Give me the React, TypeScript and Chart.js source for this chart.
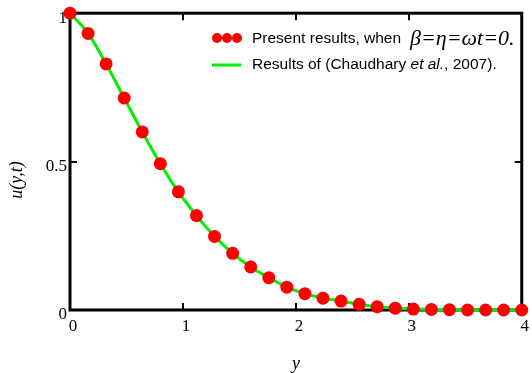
import { useEffect, useRef } from "react";
import { Chart, registerables } from "chart.js";

Chart.register(...registerables);

// distance y
const yPositions = [
  0, 0.16, 0.32, 0.48, 0.64, 0.8, 0.96, 1.12, 1.28, 1.44, 1.6, 1.76, 1.92,
  2.08, 2.24, 2.4, 2.56, 2.72, 2.88, 3.04, 3.2, 3.36, 3.52, 3.68, 3.84, 4.0,
];
// present results (red dots)
const uPresent = [
  1.0, 0.932, 0.829, 0.714, 0.6, 0.493, 0.398, 0.318, 0.248, 0.191, 0.145,
  0.109, 0.077, 0.055, 0.04, 0.03, 0.019, 0.011, 0.006, 0.003, 0.002, 0.001,
  0.0, 0.0, 0.0, 0.0,
];
// Chaudhary et al. 2007 (green line)
const uChaudhary = [
  1.0, 0.932, 0.829, 0.714, 0.6, 0.493, 0.398, 0.318, 0.248, 0.191, 0.145,
  0.109, 0.077, 0.055, 0.04, 0.03, 0.019, 0.011, 0.006, 0.003, 0.002, 0.001,
  0.0, 0.0, 0.0, 0.0,
];
const xTickValues = [1, 2, 3];
const yTickValues = [0.5];

const legendPresent = "Present results, when ";
const legendMath = "β=η=ωt=0.";
const legendRef1 = "Results of (Chaudhary ";
const legendRef2 = "et al.";
const legendRef3 = ", 2007).";
const xTitle = "y";
const yTitle = "u(y,t)";

const RED = "#ff0000";
const GREEN = "#00ee00";
const SERIF = '"Liberation Serif", "DejaVu Serif", serif';
const SANS = '"Liberation Sans", Arial, sans-serif';

const framePlugin = {
  id: "frame",
  beforeDatasetsDraw(chart: any) {
    const { ctx, chartArea, scales } = chart;
    const { left, right, top, bottom } = chartArea;
    ctx.save();
    ctx.strokeStyle = "#000";
    ctx.lineWidth = 3;
    ctx.strokeRect(left, top, right - left, bottom - top);
    ctx.lineWidth = 2;
    ctx.beginPath();
    for (const v of xTickValues) {
      const px = Math.round(scales.x.getPixelForValue(v));
      ctx.moveTo(px, bottom);
      ctx.lineTo(px, bottom - 7);
      ctx.moveTo(px, top);
      ctx.lineTo(px, top + 7);
    }
    for (const v of yTickValues) {
      const py = Math.round(scales.y.getPixelForValue(v));
      ctx.moveTo(left, py);
      ctx.lineTo(left + 7, py);
      ctx.moveTo(right, py);
      ctx.lineTo(right - 7, py);
    }
    ctx.stroke();
    ctx.restore();
  },
  afterDraw(chart: any) {
    const { ctx, chartArea } = chart;
    ctx.save();
    ctx.fillStyle = "#000";
    // axis titles
    ctx.font = `italic 18px ${SERIF}`;
    ctx.textAlign = "center";
    ctx.textBaseline = "middle";
    ctx.fillText(xTitle, (chartArea.left + chartArea.right) / 2 + 0, 364);
    ctx.save();
    ctx.translate(17, 180);
    ctx.rotate(-Math.PI / 2);
    ctx.fillText(yTitle, 0, 0);
    ctx.restore();

    // legend
    const lx = 212;
    const r1 = 38;
    const r2 = 65;
    ctx.fillStyle = RED;
    for (let i = 0; i < 3; i++) {
      ctx.beginPath();
      ctx.arc(lx + 5 + i * 10, r1, 5, 0, Math.PI * 2);
      ctx.fill();
    }
    ctx.strokeStyle = GREEN;
    ctx.lineWidth = 3;
    ctx.beginPath();
    ctx.moveTo(lx, r2);
    ctx.lineTo(lx + 29, r2);
    ctx.stroke();

    ctx.fillStyle = "#000";
    ctx.textAlign = "left";
    ctx.textBaseline = "middle";
    const tx = 252;
    ctx.font = `15.5px ${SANS}`;
    ctx.fillText(legendPresent, tx, r1 + 1);
    const w1 = ctx.measureText(legendPresent).width;
    ctx.font = `italic 22px ${SERIF}`;
    ctx.fillText(legendMath, Math.max(tx + w1 + 4, 410), r1 + 1);

    let cx = tx;
    ctx.font = `15.5px ${SANS}`;
    ctx.fillText(legendRef1, cx, r2);
    cx += ctx.measureText(legendRef1).width;
    ctx.font = `italic 15.5px ${SANS}`;
    ctx.fillText(legendRef2, cx, r2);
    cx += ctx.measureText(legendRef2).width;
    ctx.font = `15.5px ${SANS}`;
    ctx.fillText(legendRef3, cx, r2);
    ctx.restore();
  },
};

export default function App() {
  const canvasRef = useRef<HTMLCanvasElement | null>(null);

  useEffect(() => {
    const canvas = canvasRef.current;
    if (!canvas) return;
    const chart = new Chart(canvas, {
      type: "scatter",
      data: {
        datasets: [
          {
            label: "Present results",
            data: yPositions.map((x, i) => ({ x, y: uPresent[i] })),
            showLine: false,
            pointRadius: 6.5,
            pointHoverRadius: 6.5,
            pointBackgroundColor: RED,
            pointBorderWidth: 0,
            pointBorderColor: RED,
            order: 0,
            clip: false as any,
          },
          {
            label: "Chaudhary et al. 2007",
            data: yPositions.map((x, i) => ({ x, y: uChaudhary[i] })),
            showLine: true,
            borderColor: GREEN,
            borderWidth: 3,
            pointRadius: 0,
            cubicInterpolationMode: "monotone",
            order: 1,
            clip: false as any,
          },
        ],
      },
      options: {
        animation: false,
        responsive: false,
        devicePixelRatio: 1,
        layout: { padding: { top: 12, right: 8, left: 0, bottom: 0 } },
        plugins: {
          legend: { display: false },
          tooltip: { enabled: false },
        },
        scales: {
          x: {
            type: "linear",
            min: 0,
            max: 4,
            ticks: {
              stepSize: 1,
              color: "#000",
              font: { family: SERIF, size: 17 },
              padding: 6,
              labelOffset: 3,
              maxRotation: 0,
              callback: (v: any) => String(v),
            },
            grid: { display: false, drawTicks: false },
            border: { display: false },
            afterFit: (s: any) => {
              s.height = 63;
            },
          },
          y: {
            type: "linear",
            min: 0,
            max: 1,
            ticks: {
              stepSize: 0.5,
              color: "#000",
              font: { family: SERIF, size: 17 },
              padding: 3,
              labelOffset: 5,
              callback: (v: any) => String(v),
            },
            grid: { display: false, drawTicks: false },
            border: { display: false },
            afterFit: (s: any) => {
              s.width = 70;
            },
          },
        },
      },
      plugins: [framePlugin],
    });
    return () => chart.destroy();
  }, []);

  return (
    <div style={{ position: "fixed", left: 0, top: 0, width: 532, height: 373, background: "#fff" }}>
      <canvas ref={canvasRef} width={532} height={373} />
    </div>
  );
}
